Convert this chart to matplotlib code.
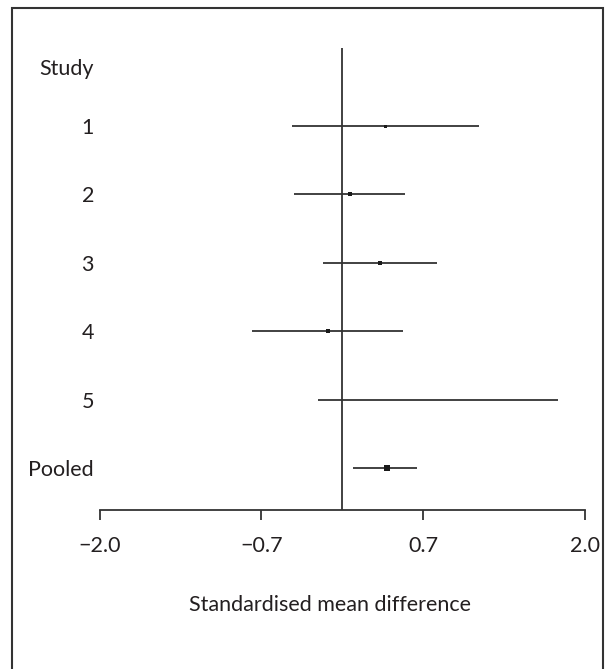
import matplotlib
matplotlib.use("Agg")
import matplotlib.pyplot as plt
from matplotlib.patches import Rectangle
from matplotlib import transforms

plt.rcParams['font.family'] = ['Lato', 'DejaVu Sans']

# Data
study_labels = ["1", "2", "3", "4", "5", "Pooled"]
estimates = [0.353, 0.062, 0.309, -0.120, 0.79, 0.367]
lower_ci = [-0.416, -0.394, -0.161, -0.746, -0.196, 0.092]
upper_ci = [1.131, 0.515, 0.779, 0.499, 1.777, 0.620]
marker_px = [3, 4, 4, 4, 0, 6]
tick_values = [-2.0, -2.0 / 3, 2.0 / 3, 2.0]
tick_labels = ["\u22122.0", "\u22120.7", "0.7", "2.0"]

W, H = 610, 669
fig = plt.figure(figsize=(W / 100, H / 100), dpi=100)

left_px, right_px = 99.6, 584.7
top_px, bottom_px = 48.3, 510.0
ax = fig.add_axes([left_px / W, 1 - bottom_px / H,
                   (right_px - left_px) / W, (bottom_px - top_px) / H])

col = "#333333"
txt = "#231f20"
fs = 15.5
rows = list(range(len(study_labels)))

for i, (e, lo, hi, ms) in enumerate(zip(estimates, lower_ci, upper_ci, marker_px)):
    ax.plot([lo, hi], [i, i], color=col, lw=1.3, solid_capstyle='butt')
    if ms > 0:
        ax.plot([e], [i], marker='s', color="#1a1a1a", markersize=ms * 0.72,
                markeredgewidth=0, linestyle='none')

ax.axvline(0, color=col, lw=1.3)

ax.set_xlim(-2, 2)
ax.set_ylim(5.606, -1.134)

for s in ['top', 'left', 'right']:
    ax.spines[s].set_visible(False)
ax.spines['bottom'].set_color(col)
ax.spines['bottom'].set_linewidth(1.3)

ax.set_xticks(tick_values)
ax.set_xticklabels(tick_labels, fontsize=fs, color=txt)
ax.tick_params(axis='x', direction='out', length=7, width=1.3, color=col, pad=12)

ax.set_yticks(rows)
ax.set_yticklabels(study_labels, fontsize=fs, color=txt)
ax.tick_params(axis='y', length=0, pad=4)

trans = transforms.blended_transform_factory(ax.transAxes, ax.transData)
ax.text(-(left_px - 94) / (right_px - left_px), -0.832, "Study", transform=trans,
        ha='right', va='center', fontsize=fs, color=txt, clip_on=False)

fig.text(0.5 * (188 + 471.7) / W, 1 - 605 / H, "Standardised mean difference",
         ha='center', va='center', fontsize=fs, color=txt)

fig.patches.append(Rectangle((12 / W, -0.05), (603 - 12) / W, 1.05 - 8.3 / H,
                             transform=fig.transFigure, fill=False,
                             edgecolor=col, linewidth=1.5))

fig.savefig("out.png", dpi=100)
